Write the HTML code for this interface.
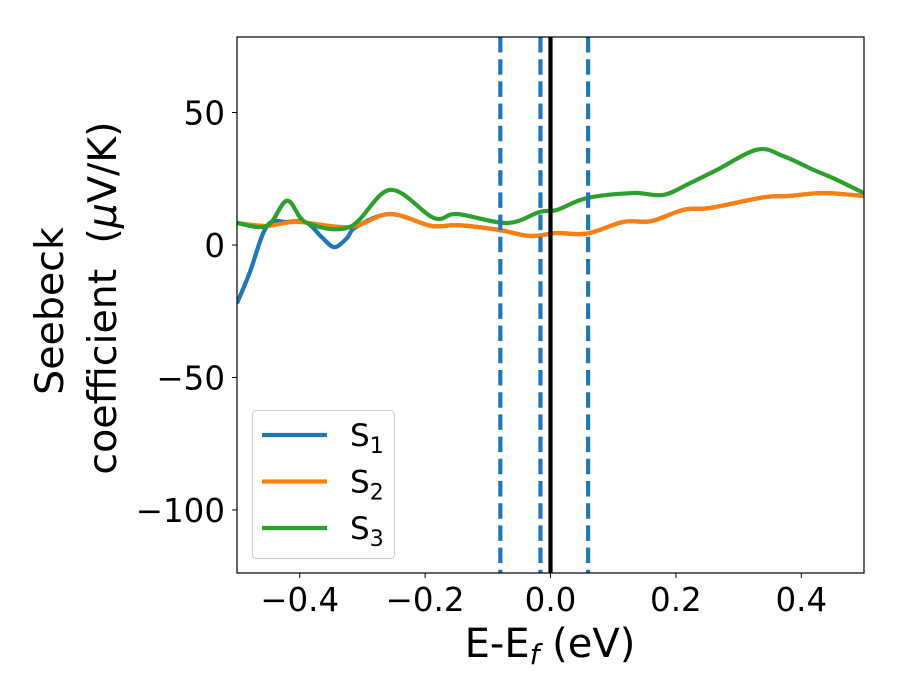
<!DOCTYPE html>
<html><head><meta charset="utf-8"><style>
body{margin:0;background:#fff;}
svg{display:block;font-family:"DejaVu Sans","Liberation Sans",sans-serif;}
</style></head><body>
<svg id="chart" width="900" height="700" xmlns="http://www.w3.org/2000/svg">
<rect x="0" y="0" width="900" height="700" fill="#fff"/>
<g id="plot"></g>
<text x="550" y="657" font-size="40" text-anchor="middle">E-E<tspan font-style="italic" font-size="28" dy="7">f</tspan><tspan dy="-7"> (eV)</tspan></text>
<text transform="translate(63,311) rotate(-90)" font-size="39.5" text-anchor="middle">Seebeck</text>
<text transform="translate(116,298) rotate(-90)" font-size="39.5" text-anchor="middle" xml:space="preserve">coefficient  (<tspan font-style="italic">μ</tspan>V/K)</text>
</svg>
<script>
const xTicks=[-0.4,-0.2,0.0,0.2,0.4];
const xTickLabels=["−0.4","−0.2","0.0","0.2","0.4"];
const yTicks=[50,0,-50,-100];
const yTickLabels=["50","0","−50","−100"];
const vLinesDashed=[-0.08,-0.016,0.06];
const vLineSolid=[0.0];
const s1E=[-0.5,-0.48,-0.452,-0.42,-0.389,-0.365,-0.345,-0.325,-0.31,-0.256,-0.19,-0.149,-0.085,-0.033,0.01,0.058,0.116,0.16,0.213,0.255,0.34,0.38,0.435,0.5];
const s1V=[-22,-10.6,7.2,8.7,8.4,3,-0.8,2.5,6.8,11.7,7.2,7.5,5.8,3.4,4.5,4.3,8.7,9,13.3,14,18,18.5,19.6,18.5];
const s2E=[-0.5,-0.452,-0.404,-0.32,-0.256,-0.19,-0.149,-0.085,-0.033,0.01,0.058,0.116,0.16,0.213,0.255,0.34,0.38,0.435,0.5];
const s2V=[8.3,7.2,8.7,6.8,11.7,7.2,7.5,5.8,3.4,4.5,4.3,8.7,9,13.3,14,18,18.5,19.6,18.5];
const s3E=[-0.5,-0.452,-0.42,-0.389,-0.32,-0.256,-0.186,-0.149,-0.069,-0.017,0.01,0.058,0.132,0.18,0.223,0.265,0.33,0.371,0.42,0.45,0.5];
const s3V=[8.3,7.2,16.7,8.4,6.8,20.8,10.2,11.7,8.3,12.5,13.2,17.7,19.6,18.9,23.4,28.3,36,33.6,28.3,25.3,19.6];
const series=[["s1",s1E,s1V,"#1f77b4"],["s2",s2E,s2V,"#ff7f0e"],["s3",s3E,s3V,"#2ca02c"]];
const L=237,R=864,T=37,B=573,xmin=-0.5,xmax=0.5,ymin=-123.8,ymax=78.5;
const X=v=>L+(v-xmin)/(xmax-xmin)*(R-L);
const Y=v=>B-(v-ymin)/(ymax-ymin)*(B-T);
const NS="http://www.w3.org/2000/svg";
const g=document.getElementById('plot');
function mk(tag,attrs,parent){const e=document.createElementNS(NS,tag);for(const k in attrs)e.setAttribute(k,attrs[k]);(parent||g).appendChild(e);return e;}
const defs=mk('defs',{});const cp=mk('clipPath',{id:'clip'},defs);mk('rect',{x:L,y:T,width:R-L,height:B-T},cp);
function smooth(pts){let d=`M${pts[0][0]},${pts[0][1]}`;for(let i=0;i<pts.length-1;i++){const p0=pts[i-1]||pts[i],p1=pts[i],p2=pts[i+1],p3=pts[i+2]||p2;const c1=[p1[0]+(p2[0]-p0[0])/6,p1[1]+(p2[1]-p0[1])/6],c2=[p2[0]-(p3[0]-p1[0])/6,p2[1]-(p3[1]-p1[1])/6];d+=`C${c1[0]},${c1[1]} ${c2[0]},${c2[1]} ${p2[0]},${p2[1]}`;}return d;}
series.forEach(([n,E,V,c])=>{const p=mk('path',{d:smooth(E.map((e,i)=>[X(e),Y(V[i])])),fill:'none',stroke:c,'stroke-width':4.2,'stroke-linejoin':'round','clip-path':'url(#clip)'});

});
vLinesDashed.forEach((v,i)=>{const l=mk('line',{x1:X(v),x2:X(v),y1:T,y2:B,stroke:'#1f77b4','stroke-width':4.2,'stroke-dasharray':'15.5,6.7'});

});
vLineSolid.forEach(v=>{const l=mk('line',{x1:X(v),x2:X(v),y1:T,y2:B,stroke:'#000','stroke-width':4.2});

});
const fr=mk('rect',{x:L,y:T,width:R-L,height:B-T,fill:'none',stroke:'#000','stroke-width':1.2});


xTicks.forEach((v,i)=>{mk('line',{x1:X(v),x2:X(v),y1:B,y2:B+5,stroke:'#000'});const t=mk('text',{x:X(v),y:611,'font-size':32.5,'text-anchor':'middle'});t.textContent=xTickLabels[i];

});
yTicks.forEach((v,i)=>{mk('line',{x1:L-5,x2:L,y1:Y(v),y2:Y(v),stroke:'#000'});const t=mk('text',{x:L-12,y:Y(v)+12,'font-size':32.5,'text-anchor':'end'});t.textContent=yTickLabels[i];

});
const lg=mk('g',{});


mk('rect',{x:252.5,y:410.5,width:142,height:148,rx:4,fill:'#fff','fill-opacity':0.8,stroke:'#ccc'},lg);
series.forEach(([n,E,V,c],i)=>{const y=435+i*46.5;mk('line',{x1:262,x2:327,y1:y,y2:y,stroke:c,'stroke-width':4.2},lg);const t=mk('text',{x:350,y:y+11,'font-size':31},lg);t.innerHTML='S<tspan font-size="22" dy="7">'+(i+1)+'</tspan>';

});
</script>
</body></html>
